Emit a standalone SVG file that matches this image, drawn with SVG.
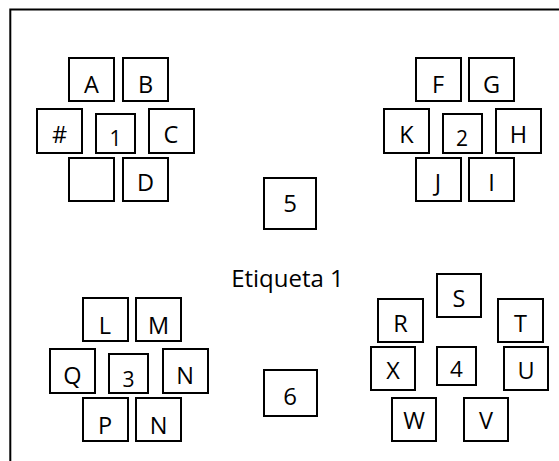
<svg xmlns="http://www.w3.org/2000/svg" width="559" height="461" viewBox="0 0 559 461">
  <style>
    .frame { fill: none; stroke: #000; stroke-width: 2; }
    .box { fill: #fff; stroke: #000; stroke-width: 2; }
    .lbl { font-family: "Open Sans", "Noto Sans", "DejaVu Sans", sans-serif; font-size: 23.5px; fill: #000; text-anchor: middle; }
    .num { font-size: 21px; }
    .four { font-size: 22.5px; }
    .big { font-size: 24px; }
  </style>
  <rect width="559" height="461" fill="#fff"/>
  <!-- page frame, open on the right and bottom -->
  <path class="frame" d="M10.3,461 V9.5 H559"/>

  <g id="connectors"></g>

  <!-- cluster 1 -->
  <g id="node-A"><rect class="box" x="69" y="58" width="45" height="43"/><text class="lbl" x="91.5" y="93">A</text></g>
  <g id="node-B"><rect class="box" x="123" y="58" width="45" height="43"/><text class="lbl" x="145.5" y="93">B</text></g>
  <g id="node-hash"><rect class="box" x="37" y="109" width="45" height="44"/><text class="lbl" x="59.5" y="143">#</text></g>
  <g id="node-1"><rect class="box" x="96" y="114" width="39" height="39"/><text class="lbl num" x="115.5" y="145.7">1</text></g>
  <g id="node-C"><rect class="box" x="149" y="109" width="45" height="44"/><text class="lbl" x="171" y="143.3">C</text></g>
  <g id="node-blank"><rect class="box" x="69" y="158" width="45" height="43"/></g>
  <g id="node-D"><rect class="box" x="123" y="158" width="45" height="43"/><text class="lbl" x="145.5" y="191">D</text></g>

  <!-- cluster 2 -->
  <g id="node-F"><rect class="box" x="416" y="58" width="45" height="43"/><text class="lbl" x="438" y="93">F</text></g>
  <g id="node-G"><rect class="box" x="469" y="58" width="45" height="43"/><text class="lbl" x="491.5" y="93">G</text></g>
  <g id="node-K"><rect class="box" x="384" y="109" width="45" height="44"/><text class="lbl" x="406.5" y="143.3">K</text></g>
  <g id="node-2"><rect class="box" x="443" y="114" width="39" height="39"/><text class="lbl num" x="462" y="145.7">2</text></g>
  <g id="node-H"><rect class="box" x="496" y="109" width="45" height="44"/><text class="lbl" x="518.5" y="143.3">H</text></g>
  <g id="node-J"><rect class="box" x="416" y="158" width="45" height="43"/><text class="lbl" x="438" y="191">J</text></g>
  <g id="node-I"><rect class="box" x="469" y="158" width="45" height="43"/><text class="lbl" x="491.5" y="191">I</text></g>

  <!-- centre column -->
  <g id="node-5"><rect class="box" x="264" y="178" width="52" height="51"/><text class="lbl big" x="290" y="212">5</text></g>
  <g id="label-1"><text class="lbl big" x="287.5" y="287">Etiqueta 1</text></g>
  <g id="node-6"><rect class="box" x="264" y="370" width="53" height="46"/><text class="lbl big" x="290" y="405">6</text></g>

  <!-- cluster 3 -->
  <g id="node-L"><rect class="box" x="83" y="298" width="45" height="43"/><text class="lbl" x="105" y="334">L</text></g>
  <g id="node-M"><rect class="box" x="136" y="298" width="45" height="43"/><text class="lbl" x="158.5" y="334">M</text></g>
  <g id="node-Q"><rect class="box" x="50" y="349" width="45" height="44"/><text class="lbl" x="72.5" y="384">Q</text></g>
  <g id="node-3"><rect class="box" x="109" y="354" width="39" height="39"/><text class="lbl num" x="128.5" y="387">3</text></g>
  <g id="node-N1"><rect class="box" x="163" y="349" width="45" height="44"/><text class="lbl" x="185" y="383.5">N</text></g>
  <g id="node-P"><rect class="box" x="83" y="398" width="45" height="43"/><text class="lbl" x="105" y="434">P</text></g>
  <g id="node-N2"><rect class="box" x="136" y="398" width="45" height="43"/><text class="lbl" x="158.5" y="434">N</text></g>

  <!-- cluster 4 -->
  <g id="node-S"><rect class="box" x="437" y="274" width="44" height="43"/><text class="lbl" x="459" y="307">S</text></g>
  <g id="node-R"><rect class="box" x="378" y="299" width="45" height="43"/><text class="lbl" x="400.5" y="332">R</text></g>
  <g id="node-T"><rect class="box" x="498" y="299" width="45" height="43"/><text class="lbl" x="520.5" y="332">T</text></g>
  <g id="node-X"><rect class="box" x="371" y="347" width="44" height="43"/><text class="lbl" x="393" y="379">X</text></g>
  <g id="node-4"><rect class="box" x="437" y="347" width="39" height="38"/><text class="lbl four" x="456.5" y="377">4</text></g>
  <g id="node-U"><rect class="box" x="504" y="347" width="44" height="43"/><text class="lbl" x="526" y="379">U</text></g>
  <g id="node-W"><rect class="box" x="392" y="398" width="44" height="43"/><text class="lbl" x="414" y="429">W</text></g>
  <g id="node-V"><rect class="box" x="464" y="398" width="44" height="43"/><text class="lbl" x="486" y="429">V</text></g>
</svg>
